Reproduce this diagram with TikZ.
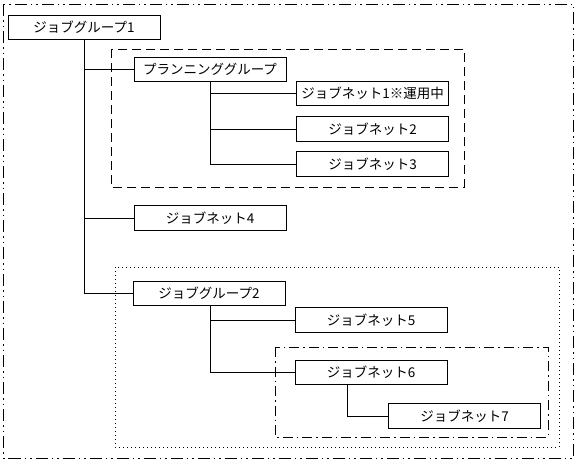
\documentclass[tikz,border=0pt]{standalone}
\usepackage{fontspec}
\setmainfont{Noto Sans CJK JP}
\usetikzlibrary{positioning}

\tikzset{
	jobbox/.style={draw, line width=1pt, minimum width=152pt, minimum height=24.5pt, inner sep=0pt, font=\fontsize{13.5}{14}\selectfont},
	wire/.style={line width=1pt},
	frameA/.style={line width=1pt, dash pattern=on 12pt off 4pt on 1.5pt off 4pt on 1.5pt off 4pt},
	frameB/.style={line width=1pt, dash pattern=on 9pt off 5pt},
	frameC/.style={line width=1pt, dash pattern=on 1pt off 3pt},
	frameD/.style={line width=1pt, dash pattern=on 10pt off 4pt on 1.5pt off 4pt},
}

\begin{document}
\begin{tikzpicture}[x=1pt, y=-1pt]
	\useasboundingbox (0,0) rectangle (577,461);
	% frames
	\draw[frameA] (3.5,4) rectangle (573.5,458);
	\draw[frameB] (111,49) rectangle (464,187);
	\draw[frameC] (115,267) rectangle (559,447);
	\draw[frameD] (275,347) rectangle (548,437);
	% boxes
	\node[jobbox] (g1) at (84,27.5) {ジョブグループ1};
	\node[jobbox] (plan) at (210,69.5) {プランニンググループ};
	\node[jobbox] (n1) at (372.5,93.5) {ジョブネット1※運用中};
	\node[jobbox] (n2) at (372.5,129) {ジョブネット2};
	\node[jobbox] (n3) at (372.5,164) {ジョブネット3};
	\node[jobbox] (n4) at (210,218) {ジョブネット4};
	\node[jobbox] (g2) at (209,293.5) {ジョブグループ2};
	\node[jobbox] (n5) at (371,320) {ジョブネット5};
	\node[jobbox] (n6) at (371,372.5) {ジョブネット6};
	\node[jobbox] (n7) at (464.5,416) {ジョブネット7};
	% connectors
	\draw[wire] (g1.south) |- (plan.west);
	\draw[wire] (g1.south) |- (n4.west);
	\draw[wire] (g1.south) |- (g2.west);
	\draw[wire] (plan.south) |- (n1.west);
	\draw[wire] (plan.south) |- (n2.west);
	\draw[wire] (plan.south) |- (n3.west);
	\draw[wire] ([xshift=1pt]g2.south) |- (n5.west);
	\draw[wire] ([xshift=1pt]g2.south) |- (n6.west);
	\draw[wire] ([xshift=-24pt]n6.south) |- (n7.west);
\end{tikzpicture}
\end{document}
